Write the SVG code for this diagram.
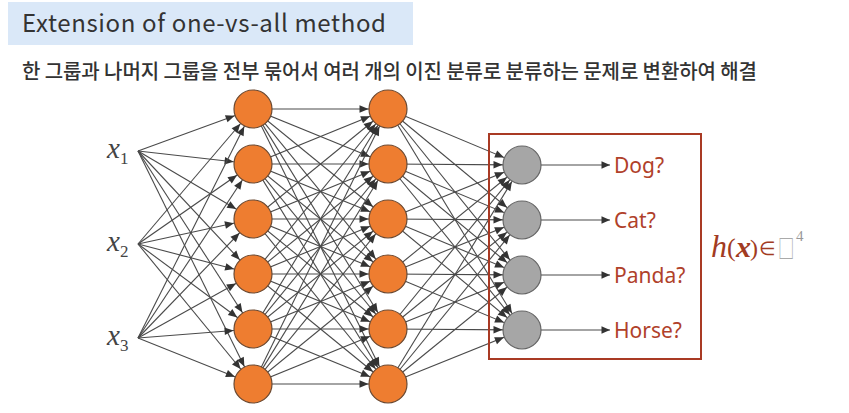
<svg xmlns="http://www.w3.org/2000/svg" width="849" height="413" viewBox="0 0 849 413">
<defs>
<style>
.e line{stroke:#4a4a4a;stroke-width:1.1;marker-end:url(#a19)}
.o line{stroke:#4a4a4a;stroke-width:1.1;marker-end:url(#tip)}
.hid{fill:#EE7D30;stroke:#6b4a33;stroke-width:1.2}
.out{fill:#A6A6A6;stroke:#666;stroke-width:1.2}
.lab{font-family:"Noto Sans","Liberation Sans",sans-serif;font-size:21px;fill:#B0412A}
.xi{font-family:"Liberation Serif",serif;font-style:italic;font-size:29px;fill:#444}
.sub{font-family:"Liberation Serif",serif;font-style:normal;font-size:17px;fill:#444}
.f{fill:#A23B22;font-family:"Liberation Serif",serif}
</style>
<marker id="a19" markerUnits="userSpaceOnUse" markerWidth="10" markerHeight="10" refX="0" refY="0" orient="auto" overflow="visible"><path d="M-19.5 0 L-28.5 -3.8 L-28.5 3.8 Z" fill="#333"/></marker>
<marker id="tip" markerUnits="userSpaceOnUse" markerWidth="10" markerHeight="10" refX="0" refY="0" orient="auto" overflow="visible"><path d="M0 0 L-8.5 -3.8 L-8.5 3.8 Z" fill="#333"/></marker>
</defs>
<rect width="849" height="413" fill="#fff"/>
<rect x="8" y="2" width="405" height="43" fill="#DAE8F8"/>
<text x="22" y="32" font-family="'Noto Sans CJK KR','Noto Sans',sans-serif" font-size="24" fill="#333" textLength="364">Extension of one-vs-all method</text>
<text x="22" y="79" font-family="'Noto Sans CJK KR',sans-serif" font-size="20" font-weight="500" fill="#333" textLength="735">한 그룹과 나머지 그룹을 전부 묶어서 여러 개의 이진 분류로 분류하는 문제로 변환하여 해결</text>
<g id="connectors">
<g class="e">
<line x1="138" y1="151" x2="253" y2="109"/><line x1="138" y1="151" x2="253" y2="164"/><line x1="138" y1="151" x2="253" y2="219"/><line x1="138" y1="151" x2="253" y2="274"/><line x1="138" y1="151" x2="253" y2="329"/><line x1="138" y1="151" x2="253" y2="384"/>
<line x1="138" y1="244" x2="253" y2="109"/><line x1="138" y1="244" x2="253" y2="164"/><line x1="138" y1="244" x2="253" y2="219"/><line x1="138" y1="244" x2="253" y2="274"/><line x1="138" y1="244" x2="253" y2="329"/><line x1="138" y1="244" x2="253" y2="384"/>
<line x1="138" y1="338" x2="253" y2="109"/><line x1="138" y1="338" x2="253" y2="164"/><line x1="138" y1="338" x2="253" y2="219"/><line x1="138" y1="338" x2="253" y2="274"/><line x1="138" y1="338" x2="253" y2="329"/><line x1="138" y1="338" x2="253" y2="384"/>

<line x1="253" y1="109" x2="388" y2="109"/><line x1="253" y1="109" x2="388" y2="164"/><line x1="253" y1="109" x2="388" y2="219"/><line x1="253" y1="109" x2="388" y2="274"/><line x1="253" y1="109" x2="388" y2="329"/><line x1="253" y1="109" x2="388" y2="384"/>
<line x1="253" y1="164" x2="388" y2="109"/><line x1="253" y1="164" x2="388" y2="164"/><line x1="253" y1="164" x2="388" y2="219"/><line x1="253" y1="164" x2="388" y2="274"/><line x1="253" y1="164" x2="388" y2="329"/><line x1="253" y1="164" x2="388" y2="384"/>
<line x1="253" y1="219" x2="388" y2="109"/><line x1="253" y1="219" x2="388" y2="164"/><line x1="253" y1="219" x2="388" y2="219"/><line x1="253" y1="219" x2="388" y2="274"/><line x1="253" y1="219" x2="388" y2="329"/><line x1="253" y1="219" x2="388" y2="384"/>
<line x1="253" y1="274" x2="388" y2="109"/><line x1="253" y1="274" x2="388" y2="164"/><line x1="253" y1="274" x2="388" y2="219"/><line x1="253" y1="274" x2="388" y2="274"/><line x1="253" y1="274" x2="388" y2="329"/><line x1="253" y1="274" x2="388" y2="384"/>
<line x1="253" y1="329" x2="388" y2="109"/><line x1="253" y1="329" x2="388" y2="164"/><line x1="253" y1="329" x2="388" y2="219"/><line x1="253" y1="329" x2="388" y2="274"/><line x1="253" y1="329" x2="388" y2="329"/><line x1="253" y1="329" x2="388" y2="384"/>
<line x1="253" y1="384" x2="388" y2="109"/><line x1="253" y1="384" x2="388" y2="164"/><line x1="253" y1="384" x2="388" y2="219"/><line x1="253" y1="384" x2="388" y2="274"/><line x1="253" y1="384" x2="388" y2="329"/><line x1="253" y1="384" x2="388" y2="384"/>

<line x1="388" y1="109" x2="522" y2="165"/><line x1="388" y1="109" x2="522" y2="220"/><line x1="388" y1="109" x2="522" y2="275"/><line x1="388" y1="109" x2="522" y2="330"/>
<line x1="388" y1="164" x2="522" y2="165"/><line x1="388" y1="164" x2="522" y2="220"/><line x1="388" y1="164" x2="522" y2="275"/><line x1="388" y1="164" x2="522" y2="330"/>
<line x1="388" y1="219" x2="522" y2="165"/><line x1="388" y1="219" x2="522" y2="220"/><line x1="388" y1="219" x2="522" y2="275"/><line x1="388" y1="219" x2="522" y2="330"/>
<line x1="388" y1="274" x2="522" y2="165"/><line x1="388" y1="274" x2="522" y2="220"/><line x1="388" y1="274" x2="522" y2="275"/><line x1="388" y1="274" x2="522" y2="330"/>
<line x1="388" y1="329" x2="522" y2="165"/><line x1="388" y1="329" x2="522" y2="220"/><line x1="388" y1="329" x2="522" y2="275"/><line x1="388" y1="329" x2="522" y2="330"/>
<line x1="388" y1="384" x2="522" y2="165"/><line x1="388" y1="384" x2="522" y2="220"/><line x1="388" y1="384" x2="522" y2="275"/><line x1="388" y1="384" x2="522" y2="330"/>
</g>
<g class="o">
<line x1="541" y1="165" x2="610" y2="165"/><line x1="541" y1="220" x2="610" y2="220"/><line x1="541" y1="275" x2="610" y2="275"/><line x1="541" y1="330" x2="610" y2="330"/>
</g>
</g>
<g id="inputs">
<g id="x1"><text class="xi" x="107" y="158">x<tspan class="sub" dy="6">1</tspan></text></g>
<g id="x2"><text class="xi" x="107" y="251">x<tspan class="sub" dy="6">2</tspan></text></g>
<g id="x3"><text class="xi" x="107" y="345">x<tspan class="sub" dy="6">3</tspan></text></g>
</g>
<g id="layer1">
<circle id="h1_1" class="hid" cx="253" cy="109" r="19"/><circle id="h1_2" class="hid" cx="253" cy="164" r="19"/><circle id="h1_3" class="hid" cx="253" cy="219" r="19"/><circle id="h1_4" class="hid" cx="253" cy="274" r="19"/><circle id="h1_5" class="hid" cx="253" cy="329" r="19"/><circle id="h1_6" class="hid" cx="253" cy="384" r="19"/>
</g>
<g id="layer2">
<circle id="h2_1" class="hid" cx="388" cy="109" r="19"/><circle id="h2_2" class="hid" cx="388" cy="164" r="19"/><circle id="h2_3" class="hid" cx="388" cy="219" r="19"/><circle id="h2_4" class="hid" cx="388" cy="274" r="19"/><circle id="h2_5" class="hid" cx="388" cy="329" r="19"/><circle id="h2_6" class="hid" cx="388" cy="384" r="19"/>
</g>
<g id="output">
<rect x="489" y="134" width="212" height="225" fill="none" stroke="#A93A24" stroke-width="2"/>
<g id="o1"><circle class="out" cx="522" cy="165" r="19"/><text class="lab" x="614" y="173">Dog?</text></g>
<g id="o2"><circle class="out" cx="522" cy="220" r="19"/><text class="lab" x="614" y="228">Cat?</text></g>
<g id="o3"><circle class="out" cx="522" cy="275" r="19"/><text class="lab" x="614" y="283">Panda?</text></g>
<g id="o4"><circle class="out" cx="522" cy="330" r="19"/><text class="lab" x="614" y="338">Horse?</text></g>
</g>
<g id="formula">
<text class="f" x="711" y="257" font-size="32" font-style="italic">h</text>
<text class="f" x="727" y="256" font-size="26">(</text>
<text class="f" x="736" y="257" font-size="30" font-style="italic" font-weight="bold">x</text>
<text class="f" x="750" y="256" font-size="24">)</text>
<text class="f" x="759" y="255" font-size="19" font-family="'DejaVu Serif',serif">∈</text>
<text transform="translate(778,258) scale(0.68,1.05)" font-size="24" font-family="'Noto Sans CJK KR',sans-serif" fill="#aaa">□</text>
<text x="796" y="241" font-size="15" font-family="'Liberation Serif',serif" fill="#999">4</text>
</g>
</svg>
